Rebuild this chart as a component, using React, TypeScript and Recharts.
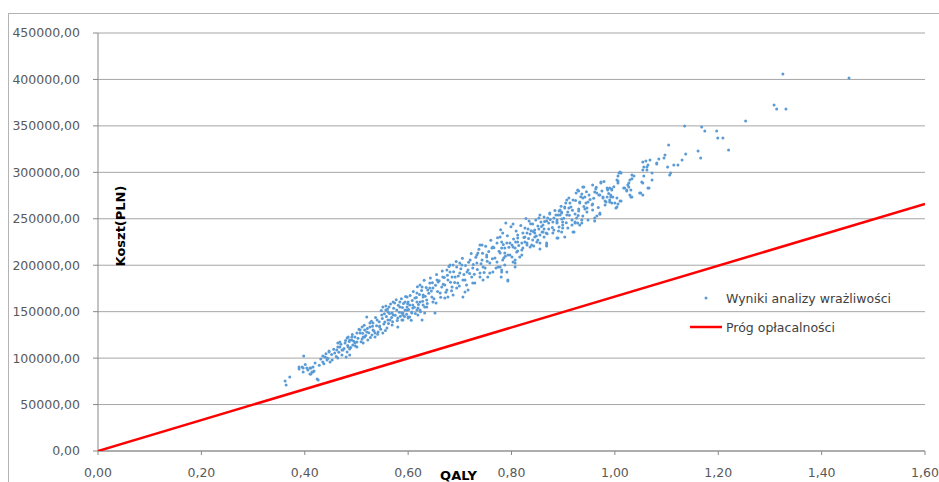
import React from 'react';
import { ScatterChart, Scatter, XAxis, YAxis, CartesianGrid, Legend } from 'recharts';

// Sensitivity-analysis results: [QALY, cost PLN]
const lowerCloud: [number, number][] = [
  [0.362,75400],[0.364,71100],[0.371,79700],[0.389,88300],[0.389,90400],[0.395,90400],[0.397,85100],[0.397,89400],[0.398,102300],[0.404,89400],[0.406,87200],[0.410,82900],[0.410,89400],[0.412,89400],[0.412,82900],[0.414,85100],[0.416,90400],[0.416,85100],[0.420,94700],[0.424,77500],[0.426,76400],[0.435,95800],[0.435,102300],[0.439,101200],[0.443,98000],[0.443,100100],[0.447,106600],[0.447,107700],[0.449,95800],[0.453,98000],[0.458,105500],[0.462,108700],[0.464,116300],[0.464,112000],[0.464,100100],[0.468,112000],[0.468,117300],[0.472,103400],[0.472,108700],[0.474,108700],[0.478,116300],[0.480,101200],[0.482,106600],[0.482,121700],[0.484,122700],[0.484,112000],[0.487,109800],[0.487,103400],[0.487,119500],[0.491,119500],[0.491,122700],[0.493,114100],[0.497,122700],[0.497,116300],[0.501,117300],[0.501,112000],[0.501,127000],[0.507,127000],[0.507,130300],[0.511,120600],[0.511,133500],[0.513,116300],[0.513,122700],[0.516,122700],[0.516,130300],[0.520,128100],[0.520,144300],[0.522,119500],[0.526,133500],[0.526,137800],[0.530,124900],[0.532,130300],[0.532,137800],[0.536,122700],[0.536,127000],[0.540,141000],[0.542,128100],[0.545,134600],[0.545,133500],[0.549,146400],[0.551,127000],[0.551,155000],[0.555,138900],[0.557,156100],[0.557,151800],[0.559,132400],[0.561,149600],[0.561,141000],[0.563,155000],[0.565,141000],[0.569,135600],[0.569,148600],[0.571,146400],[0.571,160400],[0.574,159300],[0.578,151800],[0.580,143200],[0.580,133500],[0.584,155000],[0.584,160400],[0.588,148600],[0.588,141000],[0.590,141000],[0.590,148600],[0.590,146400],[0.594,160400],[0.594,151800],[0.598,151800],[0.598,165800],[0.598,155000],[0.600,144300],[0.600,143200],[0.600,160400],[0.603,157200],[0.603,144300],[0.607,148600],[0.607,149600],[0.609,154000],[0.609,157200],[0.613,164700],[0.617,160400],[0.617,151800],[0.617,170100],[0.619,146400],[0.619,154000],[0.623,151800],[0.623,178700],[0.623,160400],[0.627,141000],[0.627,176600],[0.629,157200],[0.629,165800],[0.629,168000],[0.632,148600],[0.632,155000],[0.636,155000],[0.636,162600],[0.638,173300],
  [0.401,93100],[0.418,86000],[0.428,92300],[0.431,99000],[0.437,93800],[0.441,104800],[0.445,99600],
];

const midCloud: [number, number][] = [
  [0.642,175500],[0.642,180900],[0.646,165800],[0.648,160400],[0.648,175500],[0.652,148600],[0.654,159300],[0.656,184100],[0.658,181900],[0.662,170100],[0.665,176600],[0.667,187300],[0.671,178700],[0.671,164700],[0.675,194900],[0.675,173300],[0.677,165800],[0.677,184100],[0.681,192700],[0.681,200200],[0.685,187300],[0.685,176600],[0.687,200200],[0.687,168000],[0.691,187300],[0.694,175500],[0.694,198100],[0.696,180900],[0.700,202400],[0.700,191600],[0.704,200200],[0.706,184100],[0.706,165800],[0.710,171200],[0.710,184100],[0.714,192700],[0.716,194900],[0.716,173300],[0.720,205600],[0.723,187300],[0.725,180900],[0.725,197000],[0.729,180900],[0.733,211000],[0.733,202400],[0.735,213200],[0.739,187300],[0.739,221800],[0.739,191600],[0.743,221800],[0.743,205600],[0.745,198100],[0.745,184100],[0.749,197000],[0.752,208900],[0.752,211000],[0.754,187300],[0.758,191600],[0.758,202400],[0.762,218500],[0.764,219600],[0.764,192700],[0.768,207800],[0.772,203500],[0.772,223900],[0.774,198100],[0.778,230400],[0.778,213200],[0.778,198100],[0.780,187300],[0.781,192700],[0.781,225000],[0.781,218500],[0.781,194900],[0.783,205600],[0.783,234700],[0.785,207800],[0.787,213200],[0.787,218500],[0.787,200200],[0.789,245500],[0.791,192700],[0.791,223900],[0.793,184100],[0.793,183000],[0.793,211000],[0.797,223900],[0.797,211000],
];

const coreCloud: [number, number][] = [
  [0.452,104000],[0.456,109500],[0.461,101800],[0.466,106200],[0.470,114800],[0.476,110300],[0.479,119000],[0.483,113600],[0.486,117900],[0.489,111300],[0.492,125300],[0.495,118200],[0.498,113000],[0.503,121400],[0.505,131200],[0.509,117600],[0.512,126800],[0.515,135400],[0.518,124300],[0.521,131900],[0.524,127400],[0.527,122100],[0.529,139600],[0.531,134200],[0.534,129100],[0.537,143800],[0.539,134900],[0.541,125600],[0.544,139200],[0.547,131000],[0.548,151300],[0.550,142600],[0.553,136700],[0.554,147800],[0.556,129700],[0.558,144900],[0.560,152600],[0.562,137300],[0.564,148100],[0.566,158200],[0.568,143600],[0.570,139100],[0.572,153700],[0.575,146200],[0.577,162800],[0.579,140400],[0.581,156900],[0.583,149300],[0.585,145100],[0.587,163900],[0.589,154400],[0.591,158700],[0.593,144700],[0.595,166300],[0.597,147300],[0.599,158400],[0.601,152200],[0.604,167500],[0.606,140800],[0.608,162100],[0.610,171600],[0.612,154800],[0.614,147900],[0.616,165200],[0.618,176900],[0.620,157700],[0.622,168600],[0.624,149900],[0.626,172900],[0.628,161300],[0.631,183700],[0.633,166700],[0.635,176100],[0.637,158900],[0.640,169700],[0.643,186200],[0.645,172300],[0.647,181100],[0.650,163900],[0.653,178400],[0.655,190100],[0.657,171800],[0.660,183300],[0.663,165400],[0.666,193800],[0.668,179600],[0.670,186900],[0.673,171000],[0.676,189200],[0.679,198700],[0.682,181700],[0.684,172600],[0.688,193100],[0.690,181400],[0.693,203900],[0.697,188400],[0.699,177600],[0.702,196300],[0.705,207400],[0.708,189900],[0.711,199800],[0.713,178800],[0.717,203200],[0.719,191000],[0.722,212600],[0.726,200900],[0.728,190200],[0.731,208700],[0.734,195400],[0.737,217300],[0.741,201500],[0.744,212800],[0.747,192100],[0.750,220400],[0.753,204300],[0.756,214700],[0.760,226800],[0.763,207100],[0.766,218900],[0.770,196900],[0.773,229500],[0.776,215100],[0.779,238300],[0.784,222400],[0.788,209600],[0.792,231600],[0.795,219400],[0.799,241400],[0.804,228300],[0.809,236900],[0.814,221200],[0.818,242700],[0.824,229800],[0.828,250300],[0.833,228900],[0.837,244600],[0.842,236300],[0.848,231400],[0.853,250900],[0.858,241800],[0.864,247100],[0.869,233800],[0.875,249200],[0.879,240600],[0.884,258900],[0.891,236800],[0.896,263400],[0.901,250700],[0.906,245800],[0.912,253900],[0.918,259100],[0.924,269800],[0.929,253600],[0.934,273800],[0.940,263300],[0.945,279200],[0.952,270800],[0.959,272100],[0.964,283900],[0.968,262200],[0.975,279800],[0.979,290200],[0.988,277100],[0.998,284600],
];

const upperCloud: [number, number][] = [
  [0.801,221800],[0.801,208900],[0.803,203500],[0.803,219600],[0.803,244400],[0.807,202400],[0.807,218500],[0.807,205600],[0.807,198100],[0.808,225000],[0.810,214200],[0.812,232500],[0.812,225000],[0.812,229300],[0.812,215300],[0.816,208900],[0.820,216400],[0.820,223900],[0.820,211000],[0.822,218500],[0.822,234700],[0.826,225000],[0.826,240100],[0.826,230400],[0.830,234700],[0.830,223900],[0.830,221800],[0.832,239000],[0.834,247600],[0.836,219600],[0.836,233600],[0.838,237000],[0.839,221800],[0.841,244400],[0.841,227200],[0.843,220700],[0.845,230400],[0.845,237900],[0.845,234700],[0.847,248700],[0.849,225000],[0.851,242200],[0.851,227200],[0.853,239000],[0.855,223900],[0.855,254100],[0.855,232500],[0.855,217500],[0.857,246500],[0.859,235800],[0.861,235800],[0.861,243300],[0.863,252000],[0.863,239000],[0.863,230400],[0.867,234700],[0.868,223900],[0.868,221800],[0.868,247600],[0.868,220700],[0.870,250800],[0.872,245500],[0.872,239000],[0.874,255200],[0.874,256200],[0.880,234700],[0.880,246500],[0.882,250800],[0.882,237900],[0.886,254100],[0.888,248700],[0.888,245500],[0.888,229300],[0.888,246500],[0.890,229300],[0.890,254100],[0.892,258400],[0.892,241200],[0.894,254100],[0.894,259500],[0.897,256200],[0.897,249800],[0.897,235800],[0.897,257300],[0.899,243300],[0.899,240100],[0.899,246500],[0.903,230400],[0.903,262700],[0.903,261600],[0.905,267000],[0.907,254100],[0.907,270200],[0.909,240100],[0.909,257300],[0.911,272400],[0.911,261600],[0.913,267000],[0.915,262700],[0.917,243300],[0.917,248700],[0.919,235800],[0.919,270200],[0.921,235800],[0.923,255200],[0.923,246500],[0.923,245500],[0.925,277800],[0.926,250800],[0.928,245500],[0.928,281000],[0.930,279900],[0.930,260500],[0.930,258400],[0.932,267000],[0.932,268100],[0.932,243300],[0.936,276700],[0.936,248700],[0.936,245500],[0.938,253000],[0.938,272400],[0.938,284200],[0.940,284200],[0.942,273500],[0.942,260500],[0.944,267000],[0.946,261600],[0.946,257300],[0.948,248700],[0.948,268100],[0.950,275600],[0.956,264800],[0.957,286400],[0.957,265900],[0.957,259500],[0.961,247600],[0.961,278800],[0.961,250800],[0.963,282100],[0.965,253000],[0.965,277800],[0.969,275600],[0.971,256200],[0.971,275600],[0.971,254800],[0.973,288500],[0.973,289600],[0.977,272400],[0.977,273500],[0.981,269200],[0.981,264800],[0.983,268100],[0.985,283100],[0.985,273500],[0.986,282100],[0.986,281000],[0.990,268100],[0.990,283100],[0.990,270200],[0.992,273500],[0.992,275600],[0.994,267000],[0.994,282100],[0.994,281000],[0.996,273500],
];

const topCloud: [number, number][] = [
  [1.000,267000],[1.002,261600],[1.004,272400],[1.004,291800],[1.004,262700],[1.006,296100],[1.006,290700],[1.006,265900],[1.006,288500],[1.008,299300],[1.010,300400],[1.010,269200],[1.012,269200],[1.012,299300],[1.017,283100],[1.019,283100],[1.023,279900],[1.023,281000],[1.025,286400],[1.027,288500],[1.027,284200],[1.029,275600],[1.029,291800],[1.031,281000],[1.031,273500],[1.033,293000],[1.033,297100],[1.033,273500],[1.037,296100],[1.048,277800],[1.050,277800],[1.052,289600],[1.054,275600],[1.054,311100],[1.054,302500],[1.054,288500],[1.056,305800],[1.056,296100],[1.060,312200],[1.062,302500],[1.062,305800],[1.064,307900],[1.064,283100],[1.066,283100],[1.068,313300],[1.072,291800],[1.072,299300],[1.081,309000],[1.081,310100],[1.085,314400],[1.095,315400],[1.097,318700],[1.102,305800],[1.104,329400],[1.106,297100],[1.108,299300],[1.114,307900],[1.122,307900],[1.130,313300],[1.135,349900],[1.137,319700],[1.161,323000],[1.166,315400],[1.168,348800],[1.174,344500],[1.197,344500],[1.199,337000],[1.209,337000],[1.220,324100],[1.253,355300],[1.308,372500],[1.313,368200],[1.325,405900],[1.331,368200],[1.453,401600],
];

// Cost-effectiveness threshold line
const thresholdQaly = [0, 1.6];
const thresholdCost = [0, 266000];

const xTicks = [0, 0.2, 0.4, 0.6, 0.8, 1.0, 1.2, 1.4, 1.6];
const yTicks = [0, 50000, 100000, 150000, 200000, 250000, 300000, 350000, 400000, 450000];

const seriesName = 'Wyniki analizy wrażliwości';
const thresholdName = 'Próg opłacalności';
const xTitle = 'QALY';
const yTitle = 'Koszt(PLN)';

const scatterData = [...lowerCloud, ...coreCloud, ...midCloud, ...upperCloud, ...topCloud].map(([qaly, cost]) => ({ qaly, cost }));
const thresholdData = thresholdQaly.map((qaly, i) => ({ qaly, cost: thresholdCost[i] }));

const FONT = '"DejaVu Sans", sans-serif';
const fmt = (v: number) => v.toFixed(2).replace('.', ',');

const Dot = (props: any) => {
  const { cx, cy } = props;
  if (cx == null || cy == null) return <g />;
  return <circle cx={cx} cy={cy} r={1.5} fill="#5b9bd5" />;
};

const Empty = () => <g />;

const YTitle = (props: any) => {
  const vb = props.viewBox;
  const cx = vb.x + vb.width + 22;
  const cy = vb.y + vb.height / 2 - 16;
  return (
    <text x={cx} y={cy} transform={`rotate(-90 ${cx} ${cy})`} textAnchor="middle" dominantBaseline="central"
      fontFamily={FONT} fontWeight="bold" fontSize={13} fill="#000">{yTitle}</text>
  );
};

const XTitle = (props: any) => {
  const vb = props.viewBox;
  const cx = vb.x + vb.width / 2 - 53;
  const cy = vb.y + 29;
  return (
    <text x={cx} y={cy} textAnchor="middle" fontFamily={FONT} fontWeight="bold" fontSize={13} fill="#000">{xTitle}</text>
  );
};

const LegendContent = () => (
  <div style={{ position: 'relative', width: 240, height: 50, fontFamily: FONT, fontSize: 12.5, color: '#404040' }}>
    <div style={{ position: 'absolute', left: 0, top: 0, height: 20, display: 'flex', alignItems: 'center', whiteSpace: 'nowrap' }}>
      <svg width={36} height={20}><circle cx={16} cy={10} r={1.5} fill="#5b9bd5" /></svg>
      <span>{seriesName}</span>
    </div>
    <div style={{ position: 'absolute', left: 0, top: 29, height: 20, display: 'flex', alignItems: 'center', whiteSpace: 'nowrap' }}>
      <svg width={36} height={20}><line x1={0} y1={10} x2={32} y2={10} stroke="#ff0000" strokeWidth={2.5} /></svg>
      <span>{thresholdName}</span>
    </div>
  </div>
);

export default function App() {
  return (
    <div style={{ position: 'absolute', left: 0, top: 0, width: 939, height: 482, overflow: 'hidden', background: '#fff' }}>
      <div style={{ position: 'absolute', left: 8, top: 13, width: 960, height: 520, border: '1px solid #b4b4b4', boxSizing: 'border-box' }} />
      <div style={{ position: 'absolute', left: 0, top: 0 }}>
        <ScatterChart width={939} height={482} margin={{ top: 33, right: 14, bottom: 0, left: 8 }}>
          <CartesianGrid vertical={false} stroke="#a6a6a6" strokeWidth={1} />
          <XAxis
            type="number"
            dataKey="qaly"
            domain={[0, 1.6]}
            ticks={xTicks}
            tickFormatter={fmt}
            height={31}
            tickSize={4}
            tickMargin={13}
            stroke="#888"
            tick={{ fontFamily: FONT, fontSize: 12.5, fill: '#595959' }}
            allowDataOverflow
            label={{ content: XTitle }}
          />
          <YAxis
            type="number"
            dataKey="cost"
            domain={[0, 450000]}
            ticks={yTicks}
            tickFormatter={fmt}
            width={90}
            tickSize={5}
            tickMargin={13}
            stroke="#888"
            tick={{ fontFamily: FONT, fontSize: 12.5, fill: '#595959' }}
            allowDataOverflow
            label={{ content: YTitle }}
          />
          <Legend
            layout="horizontal"
            verticalAlign="middle"
            align="center"
            content={LegendContent}
            wrapperStyle={{ left: 690, top: 288, width: 240, height: 50 }}
          />
          <Scatter name={thresholdName} data={thresholdData} line={{ stroke: '#ff0000', strokeWidth: 2.5 }} shape={Empty} isAnimationActive={false} />
          <Scatter name={seriesName} data={scatterData} shape={Dot} isAnimationActive={false} />
        </ScatterChart>
      </div>
    </div>
  );
}
